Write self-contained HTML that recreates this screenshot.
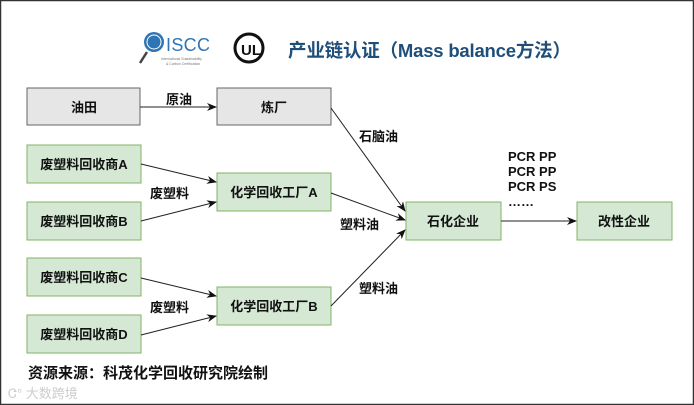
<!DOCTYPE html>
<html><head><meta charset="utf-8"><style>
html,body{margin:0;padding:0;background:#fff;}
svg{display:block;}
text{font-family:"Liberation Sans","Noto Sans CJK SC",sans-serif;font-weight:bold;fill:#111;}
</style></head><body>
<svg width="694" height="405" viewBox="0 0 694 405" xmlns="http://www.w3.org/2000/svg">
<defs><marker id="a" markerWidth="10" markerHeight="8" refX="9" refY="4" orient="auto" markerUnits="userSpaceOnUse"><path d="M0,0 L10,4 L0,8 L3,4 Z" fill="#111"/></marker></defs>
<rect x="0.5" y="0.5" width="693" height="404" fill="#fff" stroke="#333" stroke-width="1.5"/>
<!-- logos -->
<circle cx="154" cy="42" r="10" fill="#2e75b6"/>
<circle cx="154" cy="42" r="7" fill="none" stroke="#fff" stroke-width="1"/>
<line x1="147" y1="52" x2="140" y2="63" stroke="#444" stroke-width="2.5"/>
<text x="166" y="51" font-size="18" textLength="44" style="font-weight:normal;fill:#2e75b6">ISCC</text>
<text x="161" y="60" font-size="3.5" style="font-weight:normal;fill:#777">International Sustainability</text>
<text x="166" y="65" font-size="3.5" style="font-weight:normal;fill:#777">&amp; Carbon Certification</text>
<circle cx="249" cy="48" r="14" fill="none" stroke="#111" stroke-width="3"/>
<text x="241" y="55" font-size="15" style="fill:#111">UL</text>
<text x="288" y="57" font-size="18.5" textLength="283" style="fill:#1f4e79">产业链认证（Mass balance方法）</text>
<!-- boxes -->
<g stroke-width="1">
<rect x="27" y="88" width="113" height="37" fill="#e6e6e6" stroke="#666"/>
<rect x="217" y="88" width="114" height="37" fill="#e6e6e6" stroke="#666"/>
<rect x="27" y="145" width="114" height="38" fill="#d5e8d4" stroke="#82b366"/>
<rect x="27" y="202" width="114" height="38" fill="#d5e8d4" stroke="#82b366"/>
<rect x="217" y="173" width="114" height="38" fill="#d5e8d4" stroke="#82b366"/>
<rect x="27" y="258" width="114" height="38" fill="#d5e8d4" stroke="#82b366"/>
<rect x="27" y="315" width="114" height="38" fill="#d5e8d4" stroke="#82b366"/>
<rect x="217" y="287" width="114" height="38" fill="#d5e8d4" stroke="#82b366"/>
<rect x="406" y="202" width="95" height="38" fill="#d5e8d4" stroke="#82b366"/>
<rect x="577" y="202" width="95" height="38" fill="#d5e8d4" stroke="#82b366"/>
</g>
<g font-size="13" text-anchor="middle">
<text x="84" y="112">油田</text>
<text x="274" y="112">炼厂</text>
<text x="84" y="169">废塑料回收商A</text>
<text x="84" y="226">废塑料回收商B</text>
<text x="274" y="197">化学回收工厂A</text>
<text x="84" y="282">废塑料回收商C</text>
<text x="84" y="339">废塑料回收商D</text>
<text x="274" y="311">化学回收工厂B</text>
<text x="453" y="226">石化企业</text>
<text x="624" y="226">改性企业</text>
</g>
<g stroke="#222" stroke-width="1" marker-end="url(#a)">
<line x1="140" y1="107" x2="216" y2="107"/>
<line x1="331" y1="108" x2="405" y2="211"/>
<line x1="331" y1="193" x2="405" y2="220"/>
<line x1="331" y1="306" x2="405" y2="230"/>
<line x1="141" y1="164" x2="216" y2="182"/>
<line x1="141" y1="221" x2="216" y2="202"/>
<line x1="141" y1="278" x2="216" y2="296"/>
<line x1="141" y1="335" x2="216" y2="316"/>
<line x1="501" y1="221" x2="576" y2="221"/>
</g>
<g font-size="13">
<text x="166" y="104">原油</text>
<text x="359" y="141">石脑油</text>
<text x="340" y="229">塑料油</text>
<text x="359" y="293">塑料油</text>
<text x="150" y="198">废塑料</text>
<text x="150" y="312">废塑料</text>
<text x="508" y="161">PCR PP</text>
<text x="508" y="176">PCR PP</text>
<text x="508" y="191">PCR PS</text>
<text x="508" y="206">……</text>
</g>
<text x="28" y="378" font-size="15">资源来源：科茂化学回收研究院绘制</text>
<text x="8" y="398" font-size="13" style="font-weight:normal;fill:#ccc">Ꮳ° 大数跨境</text>
</svg>
</body></html>
